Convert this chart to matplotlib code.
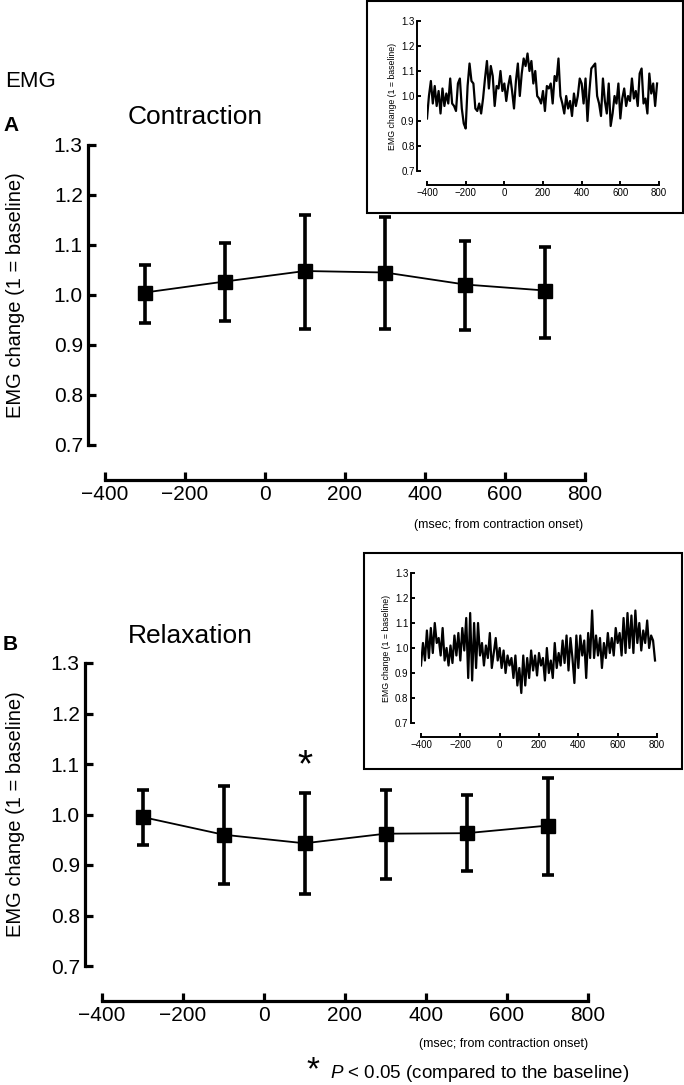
import numpy as np
import matplotlib
matplotlib.use("Agg")
import matplotlib.pyplot as plt
from matplotlib.patches import Rectangle

REG = ['Liberation Sans', 'DejaVu Sans']
NARROW = ['Liberation Sans Narrow', 'Liberation Sans', 'DejaVu Sans']
plt.rcParams['font.family'] = NARROW
plt.rcParams['mathtext.fontset'] = 'custom'
plt.rcParams['mathtext.it'] = 'Liberation Sans:italic'
plt.rcParams['mathtext.rm'] = 'Liberation Sans'
plt.rcParams['axes.unicode_minus'] = True

# bins (msec from contraction onset)
t_bins = [-300, -100, 100, 300, 500, 700]

# A: contraction
a_mean = [1.005, 1.027, 1.048, 1.045, 1.021, 1.009]
a_lo = [0.945, 0.948, 0.933, 0.933, 0.930, 0.914]
a_hi = [1.060, 1.105, 1.160, 1.157, 1.108, 1.097]

# B: relaxation
b_mean = [0.995, 0.960, 0.943, 0.962, 0.963, 0.978]
b_lo = [0.940, 0.862, 0.843, 0.872, 0.888, 0.880]
b_hi = [1.049, 1.057, 1.042, 1.049, 1.038, 1.073]
b_sig = [100]

# inset traces, 10 ms samples from -400 to 790
trace_a = [0.91, 1.00, 1.06, 0.97, 1.04, 0.96, 1.02, 0.93, 1.03, 0.96,
           1.01, 0.97, 1.07, 0.97, 0.96, 0.94, 1.05, 1.07, 0.95, 0.89,
           0.87, 1.04, 1.13, 1.06, 1.05, 0.95, 0.94, 0.97, 0.93, 0.99,
           1.07, 1.14, 1.03, 1.12, 1.08, 0.96, 1.04, 1.03, 1.10, 1.02,
           1.05, 0.98, 1.04, 1.08, 1.02, 0.95, 1.06, 1.13, 1.00, 1.09,
           1.15, 1.12, 1.17, 1.10, 1.14, 1.05, 1.10, 1.00, 0.99, 0.97,
           1.02, 0.94, 1.04, 1.03, 1.05, 0.97, 1.08, 1.06, 1.15, 1.00,
           0.97, 0.93, 1.00, 0.95, 0.98, 0.92, 1.01, 0.96, 1.00, 1.07,
           1.05, 0.97, 1.07, 0.90, 1.02, 1.11, 1.12, 1.13, 1.00, 0.97,
           0.92, 1.07, 0.98, 0.93, 1.05, 0.88, 0.93, 1.00, 0.97, 1.05,
           0.91, 0.99, 1.03, 0.96, 1.00, 0.98, 1.07, 0.99, 1.02, 0.96,
           1.09, 1.11, 0.97, 0.99, 0.93, 1.09, 1.01, 1.05, 0.96, 1.05]
trace_b = [0.93, 1.02, 0.95, 1.07, 0.96, 1.08, 0.98, 1.10, 1.02, 1.04,
           0.97, 1.08, 0.95, 1.00, 0.93, 1.01, 0.94, 1.05, 0.97, 1.06,
           0.95, 1.08, 0.99, 1.12, 0.88, 1.14, 0.87, 1.10, 0.92, 1.10,
           0.97, 1.02, 0.93, 1.01, 0.96, 1.06, 0.92, 0.98, 1.04, 0.95,
           1.00, 0.92, 0.99, 0.90, 0.97, 0.93, 0.96, 0.88, 0.97, 0.85,
           0.92, 0.82, 0.97, 0.85, 0.96, 0.88, 0.99, 0.91, 0.97, 0.89,
           0.98, 0.93, 0.96, 0.87, 1.00, 0.90, 0.95, 0.88, 1.02, 0.92,
           0.98, 0.93, 1.03, 0.94, 1.05, 0.91, 1.04, 0.96, 0.86, 1.05,
           0.92, 1.05, 0.97, 1.03, 0.88, 1.06, 0.96, 1.15, 0.96, 1.05,
           0.97, 1.04, 0.92, 1.02, 0.96, 1.06, 0.98, 1.04, 0.97, 1.08,
           1.02, 1.06, 0.97, 1.12, 0.98, 1.14, 1.00, 1.13, 0.98, 1.15,
           1.02, 1.10, 0.99, 1.07, 1.02, 1.11, 1.00, 1.05, 1.03, 0.95]
t_trace = np.arange(-400, 800, 10)

xticks = [-400, -200, 0, 200, 400, 600, 800]
yticks = [0.7, 0.8, 0.9, 1.0, 1.1, 1.2, 1.3]

W, H = 684, 1085
fig = plt.figure(figsize=(W / 100, H / 100), dpi=100)


def px_axes(x0, y0, x1, y1, z):
    # pixel box (top-left origin) -> axes
    ax = fig.add_axes([x0 / W, 1 - y1 / H, (x1 - x0) / W, (y1 - y0) / H])
    ax.set_zorder(z)
    return ax


def style(ax, lw, tlen, fs, off_l, off_b, pad):
    ax.set_xlim(-400, 800)
    ax.set_ylim(0.7, 1.3)
    ax.set_xticks(xticks)
    ax.set_yticks(yticks)
    ax.yaxis.set_major_formatter(plt.FormatStrFormatter('%.1f'))
    for s in ['top', 'right']:
        ax.spines[s].set_visible(False)
    ax.spines['left'].set_position(('outward', off_l))
    ax.spines['bottom'].set_position(('outward', off_b))
    ax.spines['left'].set_linewidth(lw)
    ax.spines['bottom'].set_linewidth(lw)
    ax.tick_params(direction='in', length=tlen, width=lw, pad=pad, labelsize=fs)
    ax.patch.set_alpha(0)


def main_panel(ax, mean, lo, hi, lab_x):
    style(ax, 2.3, 6, 15, 12, 25, 4)
    m = np.array(mean)
    yerr = [m - np.array(lo), np.array(hi) - m]
    ax.errorbar(t_bins, mean, yerr=yerr, fmt='s-', color='black', ms=10,
                lw=1.3, elinewidth=2.6, capsize=4.5, capthick=2.6, clip_on=False)
    ax.set_ylabel('EMG change (1 = baseline)', fontsize=14.5, family=REG)
    ax.yaxis.set_label_coords(lab_x, 0.5)


def inset(ax, trace):
    style(ax, 1.4, 3, 7, 7, 10, 2)
    ax.plot(t_trace, trace, color='black', lw=1.6)
    ax.set_ylabel('EMG change (1 = baseline)', fontsize=6.3, family=REG, labelpad=3)


# panel A
axA = px_axes(105, 145, 585, 445, 0)
main_panel(axA, a_mean, a_lo, a_hi, -0.166)
fig.text(5 / W, 1 - 82 / H, 'EMG', fontsize=16, family=REG, va='center')
fig.text(3 / W, 1 - 125 / H, 'A', fontsize=15, family=REG, fontweight='bold', va='center')
fig.text(128 / W, 1 - 117 / H, 'Contraction', fontsize=19, family=REG, va='center')
fig.text(583 / W, 1 - 525 / H, '(msec; from contraction onset)', fontsize=9,
         ha='right', va='center')

# panel B
axB = px_axes(102, 663, 588, 966, 0)
main_panel(axB, b_mean, b_lo, b_hi, -0.158)
for t in b_sig:
    axB.text(t, 1.095, '*', fontsize=28, family=REG, ha='center', va='center')
fig.text(3 / W, 1 - 645 / H, 'B', fontsize=15, family=REG, fontweight='bold', va='center')
fig.text(128 / W, 1 - 636 / H, 'Relaxation', fontsize=19, family=REG, va='center')
fig.text(588 / W, 1 - 1044 / H, '(msec; from contraction onset)', fontsize=9,
         ha='right', va='center')
fig.text(313 / W, 1 - 1071 / H, '*', fontsize=24, family=REG, ha='center', va='center')
fig.text(330 / W, 1 - 1073 / H, r'$\it{P}$ < 0.05 (compared to the baseline)', fontsize=13.5,
         va='center')

# insets
fig.patches.append(Rectangle((367 / W, 1 - 213 / H), 316 / W, 212 / H, transform=fig.transFigure,
                             facecolor='white', edgecolor='black', lw=1.5, zorder=1))
fig.patches.append(Rectangle((364 / W, 1 - 769 / H), 318 / W, 216 / H, transform=fig.transFigure,
                             facecolor='white', edgecolor='black', lw=1.5, zorder=1))
axIA = px_axes(427, 21, 659, 171, 2)
inset(axIA, trace_a)
axIB = px_axes(421, 573, 657, 723, 2)
inset(axIB, trace_b)

fig.savefig('out.png', dpi=100)
